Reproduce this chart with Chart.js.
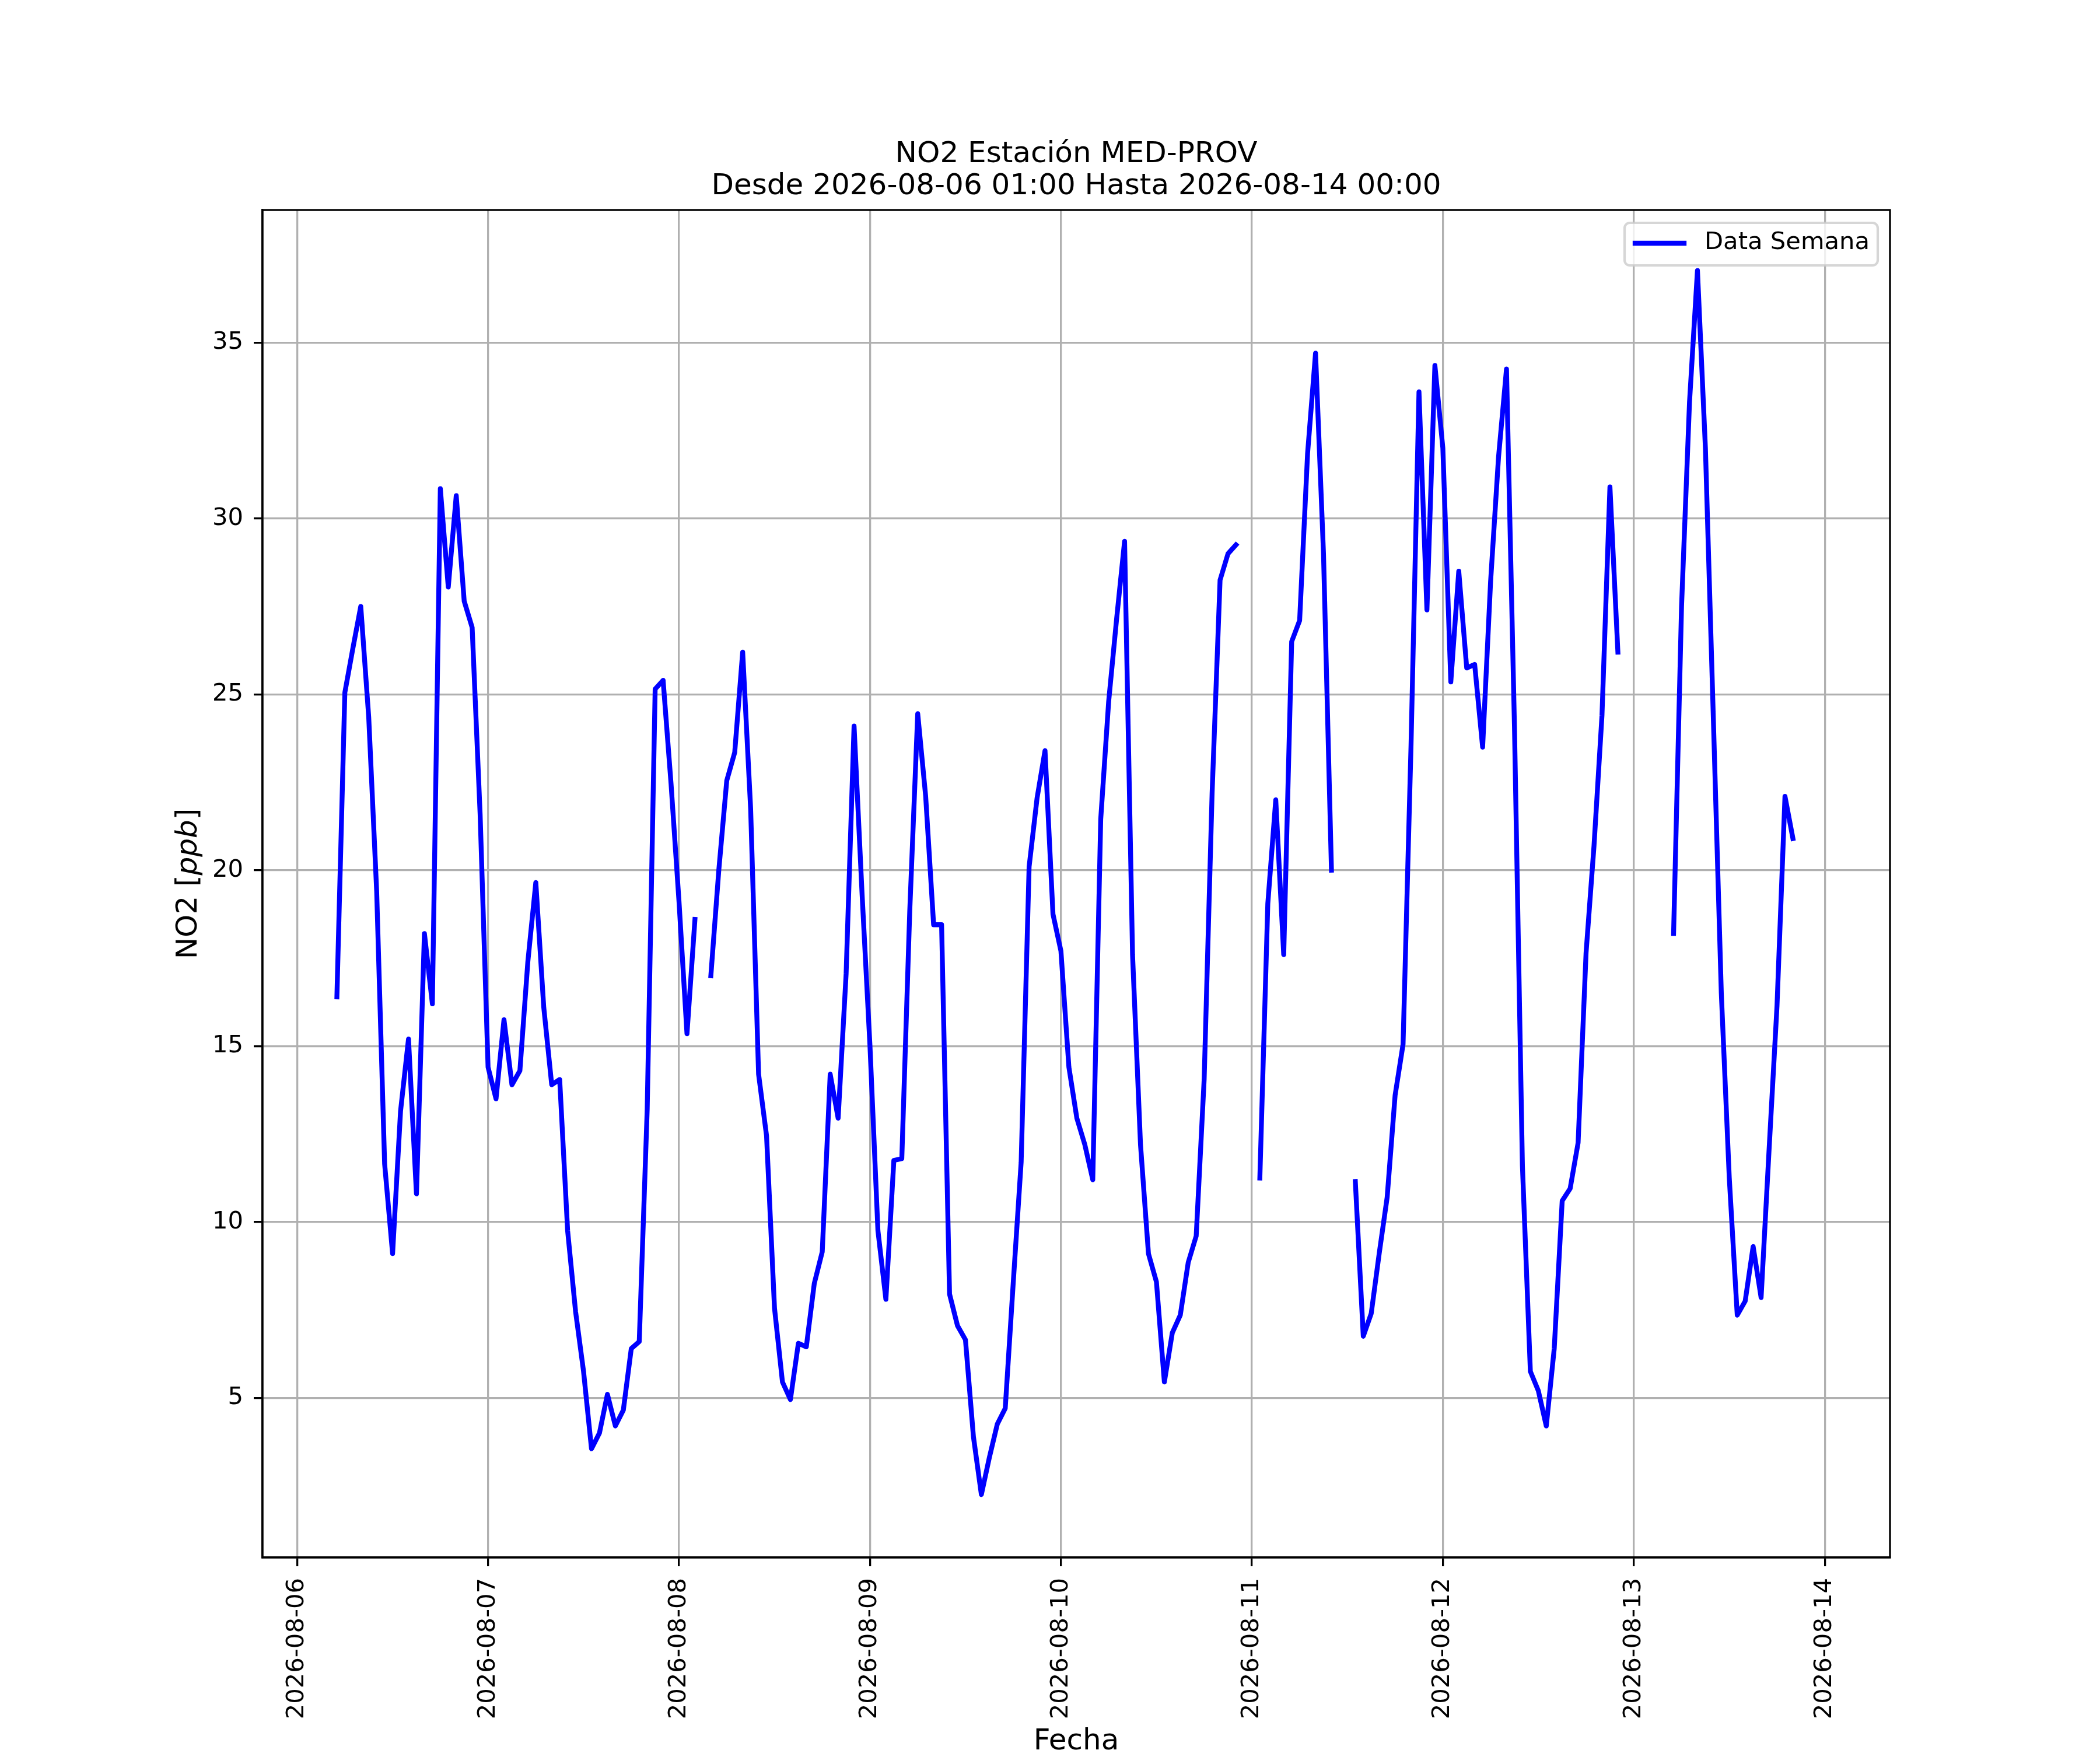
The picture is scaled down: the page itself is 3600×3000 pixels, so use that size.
<!DOCTYPE html>
<html>
<head>
<meta charset="utf-8">
<title>NO2 Estación MED-PROV</title>
<script src="https://cdn.jsdelivr.net/npm/chart.js@4.4.1/dist/chart.umd.min.js"></script>
<style>
  html, body { margin: 0; padding: 0; background: #fff; }
  #wrap { width: 3600px; height: 3000px; }
</style>
</head>
<body>
<div id="wrap"><canvas id="no2Chart" width="3600" height="3000"></canvas></div>
<script>
// series, one value per hour starting 2026-08-06 05:00 (null = no data)
const firstHour = 5;
const no2Values = [
  16.4, 25.05, 26.3, 27.5, 24.35, 19.4, 11.65, 9.1, 13.15, 15.2, 10.8, 18.2, 16.2,
  30.85, 28.05, 30.65, 27.65, 26.9, 21.6,
  // 08-07
  14.4, 13.5, 15.75, 13.9, 14.3, 17.4, 19.65, 16.1, 13.9, 14.05, 9.75, 7.45,
  5.75, 3.55, 4.0, 5.1, 4.2, 4.65, 6.4, 6.6, 13.2, 25.15, 25.4, 22.45,
  // 08-08
  19.1, 15.35, 18.6, null, 17.0, 20.0, 22.55, 23.35, 26.2, 21.75, 14.2, 12.45,
  7.55, 5.45, 4.95, 6.55, 6.45, 8.25, 9.15, 14.2, 12.95, 17.05, 24.1, 19.35,
  // 08-09
  15.0, 9.75, 7.8, 11.75, 11.8, 18.85, 24.45, 22.1, 18.45, 18.45, 7.95, 7.05,
  6.65, 3.9, 2.25, 3.3, 4.25, 4.7, 8.25, 11.7, 20.1, 22.05, 23.4, 18.75,
  // 08-10
  17.7, 14.4, 12.95, 12.2, 11.2, 21.45, 24.8, 27.15, 29.35, 17.6, 12.2, 9.1,
  8.3, 5.45, 6.85, 7.35, 8.85, 9.6, 14.05, 22.2, 28.25, 29.0, 29.25, null,
  // 08-11
  null, 11.25, 19.05, 22.0, 17.6, 26.5, 27.1, 31.85, 34.7, 29.0, 20.0, null,
  null, 11.15, 6.75, 7.4, 9.1, 10.7, 13.6, 15.05, 23.55, 33.6, 27.4, 34.35,
  // 08-12
  32.0, 25.35, 28.5, 25.75, 25.85, 23.5, 28.2, 31.75, 34.25, 24.1, 11.6, 5.75,
  5.2, 4.2, 6.4, 10.6, 10.95, 12.25, 17.65, 20.7, 24.4, 30.9, 26.2, null,
  // 08-13
  null, null, null, null, null, 18.2, 27.5, 33.3, 37.05, 32.0, 24.3, 16.5,
  11.25, 7.35, 7.75, 9.3, 7.85, 12.05, 16.15, 22.1, 20.9
];

const dayLabels = ['2026-08-06', '2026-08-07', '2026-08-08', '2026-08-09', '2026-08-10',
                   '2026-08-11', '2026-08-12', '2026-08-13', '2026-08-14'];
const dayTicks = [0, 24, 48, 72, 96, 120, 144, 168, 192];
const yTicks = [5, 10, 15, 20, 25, 30, 35];
const titleLines = ['NO2 Estación MED-PROV', 'Desde 2026-08-06 01:00 Hasta 2026-08-14 00:00'];
const seriesName = 'Data Semana';

const points = no2Values.map((v, i) => ({ x: firstHour + i, y: v }));

Chart.defaults.font.family = 'DejaVu Sans';
Chart.defaults.color = '#000';

const gridOpts = {
  color: '#b0b0b0',
  lineWidth: 3.3,
  tickColor: '#000',
  tickWidth: 3.3,
  tickLength: 15
};

// box round the plot, like the matplotlib spines
const framePlugin = {
  id: 'frame',
  afterDatasetsDraw(chart) {
    const a = chart.chartArea;
    const ctx = chart.ctx;
    ctx.save();
    ctx.strokeStyle = '#000';
    ctx.lineWidth = 3.3;
    ctx.strokeRect(a.left, a.top, a.right - a.left, a.bottom - a.top);
    ctx.restore();
  }
};

// legend inside the plot, top right
const boxLegend = {
  id: 'boxLegend',
  afterDraw(chart) {
    const ctx = chart.ctx;
    const ds = chart.data.datasets[0];
    const x0 = 2785, y0 = 382, w = 434, h = 73, r = 9;
    ctx.save();
    ctx.beginPath();
    ctx.roundRect(x0, y0, w, h, r);
    ctx.fillStyle = 'rgba(255,255,255,0.8)';
    ctx.fill();
    ctx.strokeStyle = 'rgba(204,204,204,0.8)';
    ctx.lineWidth = 4.2;
    ctx.stroke();
    ctx.beginPath();
    ctx.moveTo(2803, 417);
    ctx.lineTo(2887, 417);
    ctx.strokeStyle = ds.borderColor;
    ctx.lineWidth = ds.borderWidth;
    ctx.lineCap = 'square';
    ctx.stroke();
    ctx.fillStyle = '#000';
    ctx.font = '41.7px "DejaVu Sans"';
    ctx.textBaseline = 'middle';
    ctx.textAlign = 'left';
    ctx.fillText(ds.label, 2922, 416);
    ctx.restore();
  }
};

// y axis label with the unit in italics
const yLabel = {
  id: 'yLabel',
  afterDraw(chart) {
    const ctx = chart.ctx;
    const parts = [
      ['NO2 [', '50px "DejaVu Sans"'],
      ['ppb', 'italic 50px "DejaVu Sans"'],
      [']', '50px "DejaVu Sans"']
    ];
    ctx.save();
    let total = 0;
    parts.forEach(p => { ctx.font = p[1]; total += ctx.measureText(p[0]).width; });
    ctx.translate(324, (chart.chartArea.top + chart.chartArea.bottom) / 2);
    ctx.rotate(-Math.PI / 2);
    ctx.fillStyle = '#000';
    ctx.textBaseline = 'middle';
    ctx.textAlign = 'left';
    let x = -total / 2;
    parts.forEach(p => {
      ctx.font = p[1];
      ctx.fillText(p[0], x, 0);
      x += ctx.measureText(p[0]).width;
    });
    ctx.restore();
  }
};

const ctx = document.getElementById('no2Chart').getContext('2d');
const chart = new Chart(ctx, {
  type: 'line',
  data: {
    datasets: [{
      label: seriesName,
      data: points,
      borderColor: '#0000ff',
      backgroundColor: '#0000ff',
      borderWidth: 8.33,
      borderCapStyle: 'square',
      borderJoinStyle: 'round',
      pointRadius: 0,
      tension: 0,
      spanGaps: false,
      fill: false
    }]
  },
  options: {
    responsive: false,
    animation: false,
    devicePixelRatio: 1,
    layout: { padding: { left: 0, right: 360, top: 0, bottom: 0 } },
    plugins: {
      legend: { display: false },
      tooltip: { enabled: false },
      title: {
        display: true,
        text: titleLines,
        fullSize: false,
        color: '#000',
        font: { size: 50, weight: 'normal', lineHeight: 1.1 },
        padding: { top: 237.5, bottom: 12.5 }
      }
    },
    scales: {
      x: {
        type: 'linear',
        min: -4.35,
        max: 200.2,
        afterBuildTicks: s => { s.ticks = dayTicks.map(v => ({ value: v })); },
        afterFit: s => { s.height = 330; },
        ticks: {
          autoSkip: false,
          minRotation: 90,
          maxRotation: 90,
          padding: 20,
          font: { size: 41.7 },
          callback: (v, i) => dayLabels[i]
        },
        grid: gridOpts,
        border: { color: '#000', width: 3.3 },
        title: {
          display: true,
          text: 'Fecha',
          font: { size: 50, lineHeight: 0.56 },
          padding: 0
        }
      },
      y: {
        type: 'linear',
        min: 0.46,
        max: 38.77,
        afterBuildTicks: s => { s.ticks = yTicks.map(v => ({ value: v })); },
        afterFit: s => { s.width = 450; },
        ticks: {
          padding: 18,
          font: { size: 41.7 }
        },
        grid: gridOpts,
        border: { color: '#000', width: 3.3 }
      }
    }
  },
  plugins: [framePlugin, boxLegend, yLabel]
});
</script>
</body>
</html>
